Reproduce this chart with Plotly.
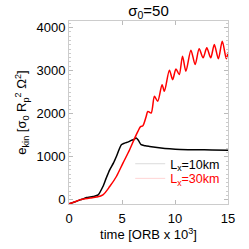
import plotly.graph_objects as go

# Black curve: L_x = 10 km
t_10km = [0, 0.5, 1.03, 1.4, 1.66, 2.0, 2.28, 2.75, 3.2, 3.5, 3.84, 4.2, 4.47, 4.94, 5.25,
          5.6, 5.87, 6.1, 6.34, 6.55, 6.8, 7.2, 7.6, 8.5, 9.5, 10.5, 12, 13.5, 15]
e_10km = [-93, -50, 0, 30, 54, 65, 78, 116, 310, 500, 698, 860, 1008, 1280, 1318,
          1345, 1380, 1400, 1434, 1380, 1280, 1255, 1240, 1210, 1185, 1170, 1165, 1160, 1150]

# Red curve: L_x = 30 km
t_30km = [0, 0.5, 1.0, 1.5, 2.0, 2.6, 3.2, 3.84, 4.47, 5.09, 5.72, 6.2, 6.5, 6.75, 6.97,
          7.28, 7.44, 7.75, 8.06, 8.37, 8.78, 9.0, 9.47, 9.78, 10.09, 10.40, 10.71, 11.03,
          11.5, 11.9, 12.28, 12.65, 13.0, 13.37, 13.71, 14.09, 14.46, 14.84, 15.0]
e_30km = [-93, -50, 0, 25, 45, 65, 116, 310, 543, 853, 1163, 1434, 1590, 1700, 1720,
          1937, 2053, 2016, 2403, 2286, 2674, 2519, 3008, 2790, 3039, 2907, 3333, 2984,
          3473, 3140, 3504, 3295, 3527, 3295, 3605, 3272, 3682, 3272, 3420]

x_ticks = [0, 5, 10, 15]
y_ticks = [0, 1000, 2000, 3000, 4000]

FONT = "Liberation Sans, Arial, sans-serif"

fig = go.Figure()
fig.add_trace(go.Scatter(x=t_10km, y=e_10km, mode="lines", showlegend=False,
                         line=dict(color="black", width=1.5, shape="spline", smoothing=0.6)))
fig.add_trace(go.Scatter(x=t_30km, y=e_30km, mode="lines", showlegend=False,
                         line=dict(color="#ff0000", width=1.5, shape="spline", smoothing=0.8)))
# legend entries (pale sample lines as in the reference)
fig.add_trace(go.Scatter(x=[None], y=[None], mode="lines", name="L<sub>x</sub>=10km",
                         line=dict(color="#dcdcdc", width=1), legend="legend"))
fig.add_trace(go.Scatter(x=[None], y=[None], mode="lines", name="L<sub>x</sub>=30km",
                         line=dict(color="#ffd4d4", width=1), legend="legend2"))

axis_common = dict(
    showline=True, linecolor="#cccccc", linewidth=1, mirror="allticks",
    ticks="inside", tickcolor="#bbbbbb", ticklen=4, showgrid=False, zeroline=False,
    tickfont=dict(family=FONT, size=13, color="black"),
)

fig.update_layout(
    width=249, height=249,
    margin=dict(l=69, r=21, t=21, b=45),
    paper_bgcolor="white", plot_bgcolor="white",
    font=dict(family=FONT, size=13, color="black"),
    title=dict(text="σ<sub>0</sub>=50", x=0.5, xref="paper", y=0.958, yanchor="middle",
               font=dict(family=FONT, size=15, color="black")),
    xaxis=dict(range=[0, 15], tickvals=x_ticks, ticklabelstandoff=2,
               title=dict(text="time [ORB x 10<sup>3</sup>]", standoff=0,
                          font=dict(family=FONT, size=13)),
               **axis_common),
    yaxis=dict(range=[-95, 4150], tickvals=y_ticks,
               minor=dict(dtick=100, ticks="inside", ticklen=2, tickcolor="#cccccc"),
               title=dict(text="e<sub>kin</sub> [σ<sub>0</sub> R<sub>p</sub><sup>2</sup> Ω<sup>2</sup>]",
                          standoff=6, font=dict(family=FONT, size=13)),
               **axis_common),
    legend=dict(x=0.385, y=0.218, xanchor="left", yanchor="middle", bgcolor="rgba(0,0,0,0)",
                font=dict(family=FONT, size=12.5, color="black"), itemwidth=30),
    legend2=dict(x=0.385, y=0.138, xanchor="left", yanchor="middle", bgcolor="rgba(0,0,0,0)",
                 font=dict(family=FONT, size=12.5, color="#ff0000"), itemwidth=30),
)

fig.write_html("out.html", config={"displayModeBar": False},
               post_script="document.body.style.margin='0';")
